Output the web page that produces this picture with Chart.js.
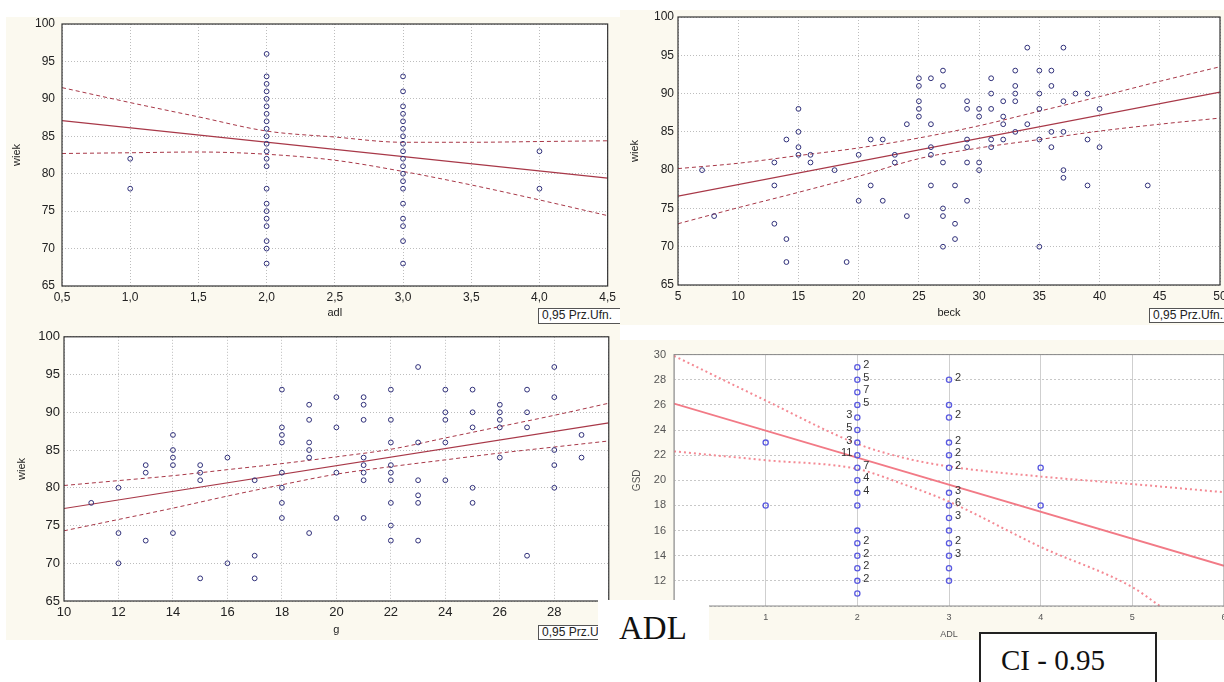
<!DOCTYPE html>
<html lang="pl">
<head>
<meta charset="UTF-8">
<title>wiek / GSD - wykresy rozrzutu</title>
<script src="https://cdn.jsdelivr.net/npm/chart.js"></script>
<style>
    body {
        margin: 0;
        width: 1224px;
        height: 682px;
        overflow: hidden;
        position: relative;
        background: #fff;
        font-family: "Liberation Sans", Arial, sans-serif;
    }
    .abs { position: absolute; }
    .cream { background: #fbf9ef; }
    .prz {
        position: absolute;
        box-sizing: border-box;
        border: 1px solid #555;
        background: #fff;
        color: #222;
        font-size: 12px;
        line-height: 13px;
        padding-left: 3px;
        white-space: nowrap;
        overflow: hidden;
    }
    .serif { font-family: "Liberation Serif", "Times New Roman", serif; color: #111; }
</style>
</head>
<body>
    <div class="abs cream" style="left:6px;top:17px;width:614px;height:623px"></div>
    <canvas id="c1" class="abs" style="left:0;top:0" width="620" height="325"></canvas>
    <canvas id="c3" class="abs" style="left:0;top:325px" width="620" height="315"></canvas>
    <div class="prz" style="left:538px;top:308px;width:90px;height:16px">0,95 Prz.Ufn.</div>
    <div class="prz" style="left:538px;top:625px;width:90px;height:15px">0,95 Prz.Ufn.</div>

    <div class="abs cream" style="left:620px;top:10px;width:604px;height:315px"></div>
    <canvas id="c2" class="abs" style="left:620px;top:0" width="620" height="325"></canvas>
    <div class="prz" style="left:1149px;top:308px;width:90px;height:15px">0,95 Prz.Ufn.</div>

    <div class="abs cream" style="left:612px;top:340px;width:612px;height:300px"></div>
    <canvas id="c4" class="abs" style="left:612px;top:340px" width="650" height="302"></canvas>

    <div class="abs" style="left:598px;top:600px;width:111px;height:82px;background:#fff"></div>
    <div class="abs serif" style="left:619px;top:612px;font-size:33px;line-height:33px">ADL</div>
    <div class="abs serif" style="left:979px;top:632px;width:178px;height:60px;box-sizing:border-box;border:2px solid #222;background:#fff;padding:12px 0 0 20px;font-size:29px;line-height:29px">CI - 0.95</div>

<script>
    // ---- panel 1: wiek vs adl ----
    const adlLevels = [1, 2, 3, 4];
    const wiekByAdl = [
        [82, 78],
        [96, 93, 92, 91, 90, 89, 88, 87, 86, 85, 84, 83, 82, 81, 78, 76, 75, 74, 73, 71, 70, 68],
        [93, 91, 89, 88, 87, 86, 85, 84, 83, 82, 81, 80, 79, 78, 76, 74, 73, 71, 68],
        [83, 78]
    ];
    const adlFitX = [0.5, 4.5];
    const adlFitY = [87.1, 79.4];
    const adlCiX = [0.5, 1, 1.5, 2, 2.5, 3, 3.5, 4, 4.5];
    const adlCiUpper = [91.5, 89.5, 87.6, 85.7, 84.9, 84.2, 84.2, 84.3, 84.4];
    const adlCiLower = [82.7, 82.8, 82.9, 82.6, 81.8, 80.3, 78.5, 76.5, 74.4];

    // ---- panel 2: wiek vs beck ----
    const beckLevels = [7, 8, 13, 14, 15, 16, 18, 19, 20, 21, 22, 23, 24, 25, 26, 27, 28, 29, 30, 31, 32, 33, 34, 35, 36, 37, 38, 39, 40, 44];
    const wiekByBeck = [
        [80], [74], [81, 78, 73], [84, 71, 68], [88, 85, 83, 82], [82, 81], [80], [68],
        [82, 76], [84, 78], [84, 76], [82, 81], [86, 74], [92, 91, 89, 88, 87],
        [92, 86, 83, 82, 78], [93, 91, 81, 75, 74, 70], [78, 73, 71], [89, 88, 84, 83, 81, 76],
        [88, 87, 81, 80], [92, 90, 88, 84, 83], [89, 87, 86, 84], [93, 91, 90, 89, 85],
        [96, 86], [93, 90, 88, 84, 70], [93, 91, 85, 83], [96, 89, 85, 80, 79], [90],
        [90, 84, 78], [88, 83], [78]
    ];
    const beckFitX = [5, 50];
    const beckFitY = [76.6, 90.2];
    const beckCiX = [5, 10, 15, 20, 25, 30, 35, 40, 45, 50];
    const beckCiUpper = [80.2, 80.9, 81.9, 82.9, 84.2, 85.8, 87.7, 89.6, 91.6, 93.5];
    const beckCiLower = [73.0, 75.1, 77.1, 79.2, 81.5, 82.9, 84.0, 85.1, 86.0, 86.8];

    // ---- panel 3: wiek vs g ----
    const gLevels = [11, 12, 13, 14, 15, 16, 17, 18, 19, 20, 21, 22, 23, 24, 25, 26, 27, 28, 29];
    const wiekByG = [
        [78], [80, 74, 70], [83, 82, 73], [87, 85, 84, 83, 74], [83, 82, 81, 68], [84, 70],
        [81, 71, 68], [93, 88, 87, 86, 82, 80, 78, 76], [91, 89, 86, 85, 84, 74], [92, 88, 82, 76],
        [92, 91, 89, 84, 83, 82, 81, 76], [93, 89, 86, 83, 82, 81, 78, 75, 73], [96, 86, 81, 79, 78, 73],
        [93, 90, 89, 86, 81], [93, 90, 88, 80, 78], [91, 90, 89, 88, 84], [93, 90, 88, 71],
        [96, 92, 85, 83, 80], [87, 84]
    ];
    const gFitX = [10, 30];
    const gFitY = [77.25, 88.6];
    const gCiX = [10, 12, 14, 16, 18, 20, 22, 24, 26, 28, 30];
    const gCiUpper = [80.3, 80.95, 81.6, 82.4, 83.2, 84.1, 85.1, 86.6, 88.1, 89.6, 91.2];
    const gCiLower = [74.3, 75.8, 77.3, 78.9, 80.4, 81.8, 82.8, 83.7, 84.6, 85.4, 86.2];

    // ---- panel 4: GSD vs ADL ----
    const gsdAdlLevels = [1, 2, 3, 4];
    const gsdByAdl = [
        [23, 18],
        [29, 28, 27, 26, 25, 24, 23, 22, 21, 20, 19, 18, 16, 15, 14, 13, 12, 11],
        [28, 26, 25, 23, 22, 21, 19, 18, 17, 16, 15, 14, 13, 12],
        [21, 18]
    ];
    const gsdFitX = [0, 6];
    const gsdFitY = [26.1, 13.2];
    const gsdUpperX = [0, 1, 2, 2.5, 3, 4, 5, 6];
    const gsdUpper = [29.9, 26.35, 22.9, 21.8, 21.1, 20.3, 19.7, 19.05];
    const gsdLowerX = [0, 1, 2, 2.5, 3, 4, 5, 5.3];
    const gsdLower = [22.3, 21.6, 20.9, 19.7, 18.3, 14.7, 11.5, 10.0];
    // counts printed next to overlapping cases
    const gsdLabelX = [2, 2, 2, 2, 2, 2, 2, 2, 2, 2, 2, 2, 2, 2, 2, 3, 3, 3, 3, 3, 3, 3, 3, 3, 3];
    const gsdLabelY = [29, 28, 27, 26, 25, 24, 23, 22, 21, 20, 19, 15, 14, 13, 12, 28, 25, 23, 22, 21, 19, 18, 17, 15, 14];
    const gsdLabelText = ['2', '5', '7', '5', '3', '5', '3', '11', '7', '4', '4', '2', '2', '2', '2', '2', '2', '2', '2', '2', '3', '6', '3', '2', '3'];
    const gsdLabelSide = ['r', 'r', 'r', 'r', 'l', 'l', 'l', 'l', 'r', 'r', 'r', 'r', 'r', 'r', 'r', 'r', 'r', 'r', 'r', 'r', 'r', 'r', 'r', 'r', 'r'];

    const FONT = '"Liberation Sans", Arial, sans-serif';

    function toPoints(xs, ys) {
        return xs.map((x, i) => ({x: x, y: ys[i]}));
    }
    function groupPoints(levels, groups) {
        const out = [];
        levels.forEach((lv, i) => groups[i].forEach(v => out.push({x: lv, y: v})));
        return out;
    }

    function framePlugin(color, width) {
        return {
            id: 'frame',
            beforeDraw(chart) {
                const a = chart.chartArea, c = chart.ctx;
                c.save();
                c.fillStyle = '#fff';
                c.fillRect(a.left, a.top, a.right - a.left, a.bottom - a.top);
                c.restore();
            },
            afterDraw(chart) {
                const a = chart.chartArea, c = chart.ctx;
                c.save();
                c.strokeStyle = color;
                c.lineWidth = width;
                c.strokeRect(a.left, a.top, a.right - a.left, a.bottom - a.top);
                c.restore();
            }
        };
    }

    const countLabels = {
        id: 'countLabels',
        afterDatasetsDraw(chart) {
            const {ctx, scales} = chart;
            ctx.save();
            ctx.font = '11px ' + FONT;
            ctx.fillStyle = '#333';
            ctx.textBaseline = 'middle';
            gsdLabelX.forEach((lx, i) => {
                const px = scales.x.getPixelForValue(lx);
                const py = scales.y.getPixelForValue(gsdLabelY[i]);
                const left = gsdLabelSide[i] === 'l';
                ctx.textAlign = left ? 'right' : 'left';
                ctx.fillText(gsdLabelText[i], px + (left ? -5 : 6), py - 2);
            });
            ctx.restore();
        }
    };

    function scatterPanel(id, cfg) {
        const datasets = [
            {
                data: cfg.points,
                pointStyle: 'circle',
                pointRadius: cfg.pointRadius,
                pointBorderWidth: cfg.pointBorder,
                pointBorderColor: cfg.pointColor,
                pointBackgroundColor: 'rgba(0,0,0,0)',
                showLine: false
            },
            {
                type: 'line', data: cfg.fit, borderColor: cfg.lineColor,
                borderWidth: cfg.fitWidth, pointRadius: 0, fill: false
            },
            {
                type: 'line', data: cfg.upper, borderColor: cfg.ciColor, borderWidth: cfg.ciWidth,
                borderDash: cfg.ciDash, pointRadius: 0, fill: false, cubicInterpolationMode: 'monotone'
            },
            {
                type: 'line', data: cfg.lower, borderColor: cfg.ciColor, borderWidth: cfg.ciWidth,
                borderDash: cfg.ciDash, pointRadius: 0, fill: false, cubicInterpolationMode: 'monotone'
            }
        ];
        const ax = cfg.x, ay = cfg.y;
        return new Chart(document.getElementById(id), {
            type: 'scatter',
            data: {datasets: datasets},
            options: {
                responsive: false,
                animation: false,
                events: [],
                layout: {padding: cfg.pad},
                plugins: {legend: {display: false}, tooltip: {enabled: false}},
                scales: {
                    x: {
                        type: 'linear', position: 'bottom', min: ax.min, max: ax.max,
                        ticks: {
                            stepSize: ax.step, autoSkip: false, maxRotation: 0, padding: ax.tickPad,
                            color: cfg.textColor, font: {family: FONT, size: ax.fontSize},
                            callback: ax.fmt || (v => v)
                        },
                        grid: {color: ax.gridColor, drawTicks: false, lineWidth: 1},
                        border: {display: false, dash: ax.dash},
                        title: {
                            display: true, text: ax.title, color: cfg.textColor,
                            font: {family: FONT, size: ax.titleSize}, padding: {top: 0, bottom: 0}
                        },
                        afterFit(s) { s.height = ax.size; }
                    },
                    y: {
                        type: 'linear', position: 'left', min: ay.min, max: ay.max,
                        ticks: {
                            stepSize: ay.step, autoSkip: false, padding: ay.tickPad,
                            color: cfg.textColor, font: {family: FONT, size: ay.fontSize}
                        },
                        grid: {color: ay.gridColor, drawTicks: false, lineWidth: 1},
                        border: {display: false, dash: ay.dash},
                        title: {
                            display: true, text: ay.title, color: cfg.textColor,
                            font: {family: FONT, size: ay.titleSize}, padding: {top: ay.titlePad, bottom: 0}
                        },
                        afterFit(s) { s.width = ay.size; }
                    }
                }
            },
            plugins: [framePlugin(cfg.frameColor, cfg.frameWidth)].concat(cfg.extra || [])
        });
    }

    const maroon = '#a83848';
    const navy = '#30307a';
    const grey = '#bdbdbd';

    scatterPanel('c1', {
        points: groupPoints(adlLevels, wiekByAdl),
        fit: toPoints(adlFitX, adlFitY),
        upper: toPoints(adlCiX, adlCiUpper),
        lower: toPoints(adlCiX, adlCiLower),
        pointRadius: 2.4, pointBorder: 1, pointColor: navy,
        lineColor: maroon, ciColor: maroon, fitWidth: 1.2, ciWidth: 1, ciDash: [4, 3],
        textColor: '#222', frameColor: '#333', frameWidth: 1.2,
        pad: {left: 0, top: 24, right: 12, bottom: 5},
        x: {min: 0.5, max: 4.5, step: 0.5, title: 'adl', titleSize: 11, fontSize: 12, tickPad: 4, size: 34,
            gridColor: grey, dash: [1, 2], fmt: v => v.toFixed(1).replace('.', ',')},
        y: {min: 65, max: 100, step: 5, title: 'wiek', titleSize: 11, fontSize: 12, tickPad: 7, size: 62,
            titlePad: 10, gridColor: grey, dash: [1, 2]}
    });

    scatterPanel('c2', {
        points: groupPoints(beckLevels, wiekByBeck),
        fit: toPoints(beckFitX, beckFitY),
        upper: toPoints(beckCiX, beckCiUpper),
        lower: toPoints(beckCiX, beckCiLower),
        pointRadius: 2.4, pointBorder: 1, pointColor: navy,
        lineColor: maroon, ciColor: maroon, fitWidth: 1.2, ciWidth: 1, ciDash: [4, 3],
        textColor: '#222', frameColor: '#333', frameWidth: 1.2,
        pad: {left: 0, top: 17, right: 20, bottom: 5},
        x: {min: 5, max: 50, step: 5, title: 'beck', titleSize: 11, fontSize: 12, tickPad: 4, size: 35,
            gridColor: grey, dash: [1, 2]},
        y: {min: 65, max: 100, step: 5, title: 'wiek', titleSize: 11, fontSize: 12, tickPad: 4, size: 58,
            titlePad: 8, gridColor: grey, dash: [1, 2]}
    });

    scatterPanel('c3', {
        points: groupPoints(gLevels, wiekByG),
        fit: toPoints(gFitX, gFitY),
        upper: toPoints(gCiX, gCiUpper),
        lower: toPoints(gCiX, gCiLower),
        pointRadius: 2.4, pointBorder: 1, pointColor: navy,
        lineColor: maroon, ciColor: maroon, fitWidth: 1.2, ciWidth: 1, ciDash: [4, 3],
        textColor: '#222', frameColor: '#333', frameWidth: 1.2,
        pad: {left: 0, top: 8, right: 9, bottom: 3},
        x: {min: 10, max: 30, step: 2, title: 'g', titleSize: 11, fontSize: 13, tickPad: 4, size: 36,
            gridColor: grey, dash: [1, 2]},
        y: {min: 65, max: 100, step: 5, title: 'wiek', titleSize: 11, fontSize: 13, tickPad: 4, size: 64,
            titlePad: 15, gridColor: grey, dash: [1, 2]}
    });

    scatterPanel('c4', {
        points: groupPoints(gsdAdlLevels, gsdByAdl),
        fit: toPoints(gsdFitX, gsdFitY),
        upper: toPoints(gsdUpperX, gsdUpper),
        lower: toPoints(gsdLowerX, gsdLower),
        pointRadius: 2.6, pointBorder: 1.3, pointColor: '#5a5ae0',
        lineColor: '#f27a86', ciColor: '#f48a94', fitWidth: 1.8, ciWidth: 2, ciDash: [2, 3],
        textColor: '#555', frameColor: '#888', frameWidth: 1,
        pad: {left: 0, top: 6, right: 38, bottom: 2},
        x: {min: 0, max: 6, step: 1, title: 'ADL', titleSize: 9, fontSize: 9, tickPad: 6, size: 34,
            gridColor: '#cfcfcf', dash: []},
        y: {min: 10, max: 30, step: 2, title: 'GSD', titleSize: 10, fontSize: 11, tickPad: 8, size: 62,
            titlePad: 19, gridColor: '#c8c8c8', dash: [2, 2]},
        extra: [countLabels]
    });
</script>
</body>
</html>
